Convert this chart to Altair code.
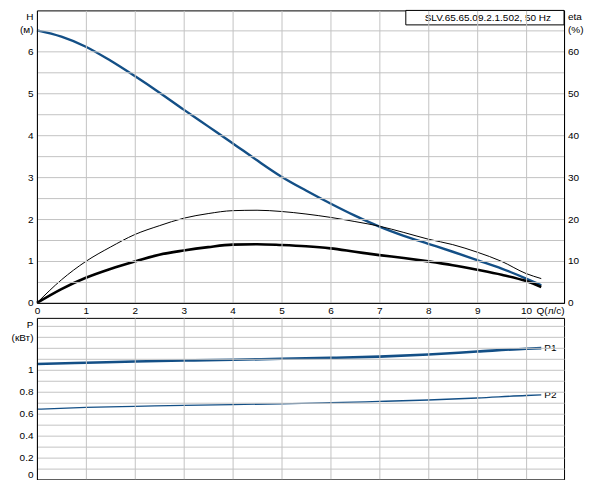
import altair as alt
import pandas as pd

# ---- data ----
q_curve = [0, 0.5, 1, 1.5, 2, 2.5, 3, 3.5, 4, 4.5, 5, 5.5, 6, 6.5, 7, 7.5, 8, 8.5, 9, 9.5, 10, 10.31]
head = [6.50, 6.35, 6.11, 5.78, 5.41, 5.02, 4.61, 4.21, 3.81, 3.40, 3.01, 2.68, 2.37, 2.08,
        1.82, 1.60, 1.41, 1.22, 1.02, 0.82, 0.58, 0.42]
eta_thin = [0, 5.5, 9.9, 13.3, 16.3, 18.4, 20.2, 21.3, 22.0, 22.1, 21.8, 21.2, 20.4, 19.4,
            18.3, 16.8, 15.2, 13.9, 12.1, 9.9, 7.0, 5.8]
eta_thick = [0, 3.3, 6.0, 8.1, 9.9, 11.5, 12.5, 13.3, 13.9, 14.0, 13.8, 13.5, 13.0, 12.2,
             11.4, 10.7, 9.9, 9.0, 7.9, 6.7, 5.2, 3.8]
q_power = [0, 1, 2, 3, 4, 5, 6, 7, 8, 9, 10, 10.31]
p1 = [1.053, 1.064, 1.076, 1.084, 1.091, 1.100, 1.109, 1.120, 1.139, 1.166, 1.192, 1.197]
p2 = [0.641, 0.658, 0.667, 0.676, 0.683, 0.690, 0.700, 0.712, 0.725, 0.743, 0.766, 0.771]

q_ticks = list(range(11))
h_ticks = [i * 0.5 for i in range(14)]
eta_ticks = [0, 10, 20, 30, 40, 50, 60]
p_ticks = [round(i * 0.1, 1) for i in range(15)]
box_text = "SLV.65.65.09.2.1.502, 50 Hz"

FONT = "Liberation Sans"
BLUE = "#134f86"
GRID = "#c3c3c3"
W = 528
H_TOP = 293
H_BOT = 162
PX_Q = 49      # pixels per l/s
PX_H = 42      # pixels per metre
PX_P = 110     # pixels per kW

df_h = pd.DataFrame({"Q": q_curve, "H": head})
n = len(q_curve)
df_eta = pd.DataFrame({
    "Q": q_curve + q_curve,
    "eta": eta_thin + eta_thick,
    "curve": ["thin"] * n + ["thick"] * n,
})
df_p = pd.DataFrame({"Q": q_power, "P1": p1, "P2": p2})
df_plab = pd.DataFrame({"Q": [q_power[-1], q_power[-1]], "P": [p1[-1], p2[-1]], "lab": ["P1", "P2"]})
df_box = pd.DataFrame({"t": [box_text]})

xscale = alt.Scale(domain=[0, W / PX_Q], nice=False, zero=False)
hscale = alt.Scale(domain=[0, H_TOP / PX_H], nice=False, zero=False)
etascale = alt.Scale(domain=[0, 10 * H_TOP / PX_H], nice=False, zero=False)
pscale = alt.Scale(domain=[0, H_BOT / PX_P], nice=False, zero=False)

grid_kw = dict(grid=True, gridColor=GRID, gridWidth=1, gridOpacity=1)

top_x_axis = alt.Axis(
    values=q_ticks, format="d", ticks=False, labelPadding=3, **grid_kw,
    labelFlush=False, domainColor="black", labelOverlap=False, zindex=1,
    title="Q(л/с)", titleX=500, titleY=3, titleAlign="left", titleBaseline="top",
    titleAngle=0, titleFontWeight="normal",
)
bot_x_axis = alt.Axis(
    values=q_ticks, labels=False, ticks=False, domainColor="black", zindex=1, **grid_kw,
)
h_axis = alt.Axis(
    values=h_ticks,
    labelExpr="datum.value % 1 == 0 && datum.value <= 6 ? format(datum.value, 'd') : ''",
    ticks=False, labelPadding=4, labelOverlap=False, zindex=1, **grid_kw,
    domainColor="black", title=["H", "(м)"], titleAngle=0, titleAlign="right",
    titleX=-4, titleY=1, titleBaseline="top", titleLineHeight=13.5, titleFontWeight="normal",
)
eta_axis = alt.Axis(
    orient="right", values=eta_ticks, format="d", grid=False, ticks=False, labelPadding=3.5,
    labelOverlap=False, domainColor="black", zindex=1, title=["eta", "(%)"], titleAngle=0,
    titleAlign="left", titleX=3.5, titleY=1, titleBaseline="top", titleLineHeight=13.5,
    titleFontWeight="normal",
)
p_axis = alt.Axis(
    values=p_ticks,
    labelExpr="datum.value <= 1.0001 && round(datum.value * 10) % 2 == 0 ? format(datum.value, '~g') : ''",
    ticks=False, labelPadding=4, labelOverlap=False, zindex=1, **grid_kw,
    labelFlush=True, domainColor="black", title=["P", "(кВт)"], titleAngle=0,
    titleAlign="right", titleX=-4, titleY=1.5, titleBaseline="top", titleLineHeight=13.5,
    titleFontWeight="normal",
)

# ---- top panel: H (left) and eta (right) ----
h_line = alt.Chart(df_h).mark_line(color=BLUE, strokeWidth=2.4, interpolate="monotone").encode(
    x=alt.X("Q:Q", scale=xscale, axis=top_x_axis),
    y=alt.Y("H:Q", scale=hscale, axis=h_axis),
)
eta_lines = alt.Chart(df_eta).mark_line(color="black", interpolate="monotone").encode(
    x=alt.X("Q:Q", scale=xscale, axis=top_x_axis),
    y=alt.Y("eta:Q", scale=etascale, axis=eta_axis),
    detail="curve:N",
    strokeWidth=alt.StrokeWidth("curve:N", scale=alt.Scale(domain=["thin", "thick"], range=[1, 2.6]), legend=None),
)
# tiny white anchor so the plot origin falls on whole pixels (crisp grid lines)
anchor = alt.Chart(df_box).mark_rect(fill="white", strokeWidth=0).encode(
    x=alt.value(-28), x2=alt.value(-27), y=alt.value(-1), y2=alt.value(0),
)
box = alt.Chart(df_box).mark_rect(fill="white", stroke="black", strokeWidth=1).encode(
    x=alt.value(369.5), x2=alt.value(528), y=alt.value(0), y2=alt.value(14.5),
)
box_label = alt.Chart(df_box).mark_text(align="right", baseline="middle", fontSize=10, font=FONT, color="black").encode(
    x=alt.value(515), y=alt.value(8), text="t:N",
)

top = alt.layer(h_line, eta_lines, anchor, box, box_label).resolve_scale(y="independent").properties(width=W, height=H_TOP)

# ---- bottom panel: power ----
p1_line = alt.Chart(df_p).mark_line(color=BLUE, strokeWidth=2.6, interpolate="monotone").encode(
    x=alt.X("Q:Q", scale=xscale, axis=bot_x_axis, title=None),
    y=alt.Y("P1:Q", scale=pscale, axis=p_axis),
)
p2_line = alt.Chart(df_p).mark_line(color=BLUE, strokeWidth=1.3, interpolate="monotone").encode(
    x=alt.X("Q:Q", scale=xscale, axis=bot_x_axis, title=None),
    y=alt.Y("P2:Q", scale=pscale, axis=p_axis),
)
p_labels = alt.Chart(df_plab).mark_text(align="left", baseline="middle", dx=3, fontSize=10, font=FONT, color="black").encode(
    x=alt.X("Q:Q", scale=xscale, axis=bot_x_axis, title=None),
    y=alt.Y("P:Q", scale=pscale, axis=p_axis),
    text="lab:N",
)
bottom = alt.layer(p1_line, p2_line, p_labels).properties(width=W, height=H_BOT)

chart = alt.vconcat(top, bottom, spacing=15, bounds="flush").properties(
    padding={"left": 0, "top": 0, "right": 0, "bottom": 0}
).configure_view(
    stroke="black", strokeWidth=1
).configure_axis(
    labelFont=FONT, titleFont=FONT, labelFontSize=10, titleFontSize=10,
    labelColor="black", titleColor="black",
).configure_text(font=FONT)

chart.save("out.html", embed_options={"renderer": "svg", "actions": False})
